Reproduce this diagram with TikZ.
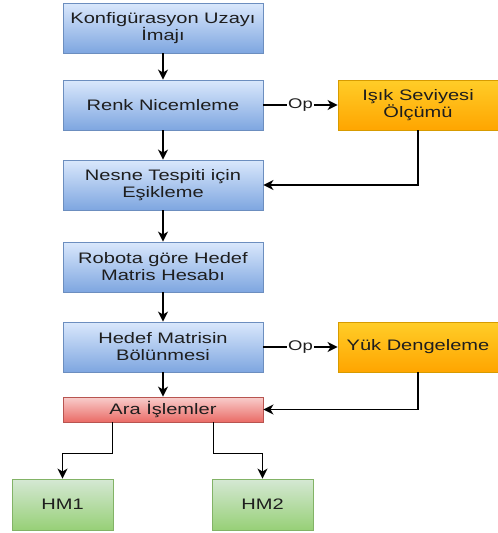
\documentclass[tikz,border=0pt]{standalone}
\usepackage{fontspec}
\setmainfont{Liberation Sans}[FakeStretch=1.32]
\usetikzlibrary{arrows.meta,calc}
\definecolor{bluetop}{RGB}{218,232,252}
\definecolor{bluebot}{RGB}{126,166,224}
\definecolor{bluedraw}{RGB}{108,142,191}
\definecolor{ortop}{RGB}{255,205,40}
\definecolor{orbot}{RGB}{255,165,0}
\definecolor{ordraw}{RGB}{215,155,0}
\definecolor{redtop}{RGB}{248,206,204}
\definecolor{redbot}{RGB}{234,107,102}
\definecolor{reddraw}{RGB}{184,84,80}
\definecolor{grtop}{RGB}{213,232,212}
\definecolor{grbot}{RGB}{151,208,119}
\definecolor{grdraw}{RGB}{130,179,102}
\definecolor{txt}{RGB}{30,30,30}
\begin{document}
\begin{tikzpicture}[x=1pt,y=-1pt,
  box/.style={draw, line width=0.9pt, minimum width=200pt, minimum height=50pt, inner sep=0pt, align=center, text=txt, font=\fontsize{15.2}{17}\selectfont},
  bluebox/.style={box, draw=bluedraw, top color=bluetop, bottom color=bluebot},
  orbox/.style={box, minimum width=160pt, draw=ordraw, top color=ortop, bottom color=orbot},
  redbox/.style={box, minimum height=25pt, draw=reddraw, top color=redtop, bottom color=redbot},
  grbox/.style={box, minimum width=101pt, minimum height=51pt, draw=grdraw, top color=grtop, bottom color=grbot},
  arr/.style={draw=black, line width=1.4pt, -{Stealth[length=10pt,width=10pt,inset=3pt]}},
  oplabel/.style={fill=white, inner sep=1pt, text=txt, font=\fontsize{14}{16}\selectfont}
]
\useasboundingbox (0,0) rectangle (498,533);
\node[bluebox] (k) at (163,28) {Konfigürasyon Uzayı\\İmajı};
\node[bluebox] (renk) at (163,105) {Renk Nicemleme};
\node[orbox] (isik) at (418,105) {Işık Seviyesi\\Ölçümü};
\node[bluebox] (nesne) at (163,185) {Nesne Tespiti için\\Eşikleme};
\node[bluebox] (robota) at (163,267) {Robota göre Hedef\\Matris Hesabı};
\node[bluebox] (hedef) at (163,347) {Hedef Matrisin\\Bölünmesi};
\node[orbox] (yuk) at (418,347) {Yük Dengeleme};
\node[redbox] (ara) at (163,409.5) {Ara İşlemler};
\node[grbox] (hm1) at (62.5,504.5) {HM1};
\node[grbox] (hm2) at (262.5,504.5) {HM2};
\draw[arr] (k) -- (renk);
\draw[arr] (renk) -- node[oplabel] {Op} (isik);
\draw[arr] (renk) -- (nesne);
\draw[arr] (isik.south) |- (nesne.east);
\draw[arr] (nesne) -- (robota);
\draw[arr] (robota) -- (hedef);
\draw[arr] (hedef) -- node[oplabel] {Op} (yuk);
\draw[arr] (hedef) -- (ara);
\draw[arr] (yuk.south) |- (ara.east);
\coordinate (a1) at ($(ara.south west)!0.25!(ara.south east)$);
\coordinate (a2) at ($(ara.south west)!0.75!(ara.south east)$);
\draw[arr] (a1) -- ++(0,31) -| (hm1.north);
\draw[arr] (a2) -- ++(0,31) -| (hm2.north);
\end{tikzpicture}
\end{document}
